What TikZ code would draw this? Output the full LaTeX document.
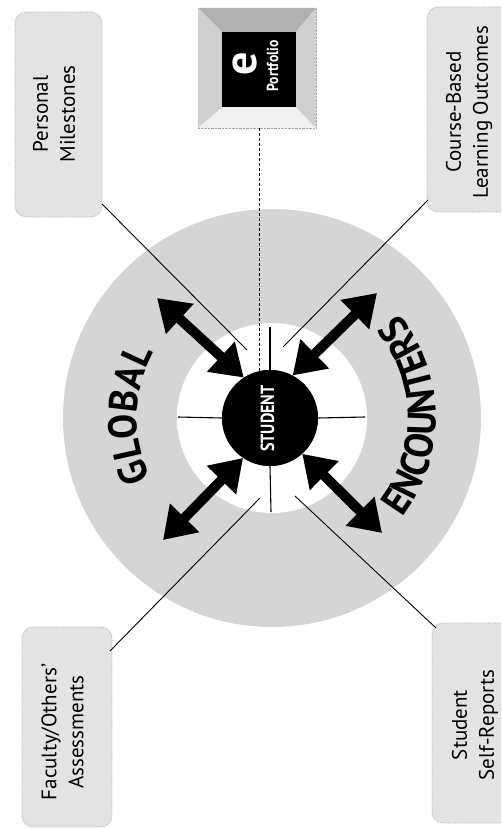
\documentclass[tikz,border=0pt]{standalone}
\usepackage{fontspec}
\setmainfont{PT Sans}
\newfontfamily\narrowfont[FakeStretch=0.85]{PT Sans}
\newfontfamily\arcfam[FakeStretch=0.93]{PT Sans}
\usetikzlibrary{arrows.meta,decorations.text,calc}
\pgfdeclareradialshading{ringfade}{\pgfpoint{0bp}{0bp}}{color(0bp)=(white); color(39bp)=(white); color(50bp)=(gray!30)}
\newcommand\arcfont{\arcfam\fontsize{40}{40}\selectfont\bfseries}
\begin{document}
\begin{tikzpicture}[x=1pt,y=1pt,
  lbl/.style={rotate=90, align=center, font=\fontsize{21}{27}\selectfont, inner sep=0pt},
  boxbg/.style={rounded corners=11pt, fill=gray!22, draw=gray!70, densely dotted, line width=0.7pt, inner sep=0pt},
  conn/.style={line width=0.9pt, black},
  spoke/.style={line width=1.1pt, black},
  bigarrow/.style={line width=10pt, {Triangle[length=31pt,width=39pt]}-{Triangle[length=31pt,width=39pt]}},
]
\useasboundingbox (0,0) rectangle (501,-829);
\begin{scope}
\clip (0,0) rectangle (501,-829);
% rings
\coordinate (C) at (272,-418);
\node[circle, fill=gray!33, minimum size=418pt, inner sep=0pt] (ring) at (C) {};
\path[shading=ringfade] (C) circle[radius=95];
\node[circle, minimum size=190pt, inner sep=0pt] (white) at (C) {};

% boxes
\node[boxbg, minimum width=87pt, minimum height=205pt] (pm) at (58.5,-114.5) {};
\node[boxbg, minimum width=95pt, minimum height=205pt] (cb) at (474.5,-109.5) {};
\node[boxbg, minimum width=90pt, minimum height=200pt] (fa) at (67,-727) {};
\node[boxbg, minimum width=95pt, minimum height=200pt] (sr) at (479.5,-723) {};

% labels
\node[lbl] (pmt) at (54,-114) {Personal\\Milestones};
\node[lbl] (cbt) at (469,-112) {Course-Based\\Learning Outcomes};
\node[lbl] (fat) at (62.5,-732) {Faculty/Others'\\Assessments};
\node[lbl] (srt) at (475,-725) {Student\\Self-Reports};

% ePortfolio
\node[draw=gray!70, densely dotted, fill=gray!12, minimum width=118pt, minimum height=120pt, inner sep=0pt] (ep) at (257,-68) {};
\node[fill=black, minimum width=74pt, minimum height=75pt, inner sep=0pt] (epin) at (259,-69.5) {};
\fill[gray!62] (ep.north west) -- (ep.north east) -- (epin.north east) -- (epin.north west) -- cycle;
\fill[gray!38] (ep.north west) -- (epin.north west) -- (epin.south west) -- (ep.south west) -- cycle;
\fill[gray!38] (ep.north east) -- (epin.north east) -- (epin.south east) -- (ep.south east) -- cycle;
\node[rotate=90, text=white, font=\fontsize{46}{46}\selectfont\bfseries, inner sep=0pt] (eltr) at (245,-64) {e};
\node[rotate=90, text=white, font=\narrowfont\fontsize{16}{16}\selectfont\bfseries, inner sep=0pt] (eptx) at (272.5,-66) {Portfolio};

% student circle node
\node[circle, fill=black, minimum size=96pt, inner sep=0pt] (st) at (270,-418) {};

% spokes
\coordinate (sw) at (178,-417);
\coordinate (se) at (365,-417);
\coordinate (sn) at (270,-327);
\coordinate (ss) at (271,-512);
\draw[spoke] (st.west) -- (sw);
\draw[spoke] (st.east) -- (se);
\draw[spoke] (st.north) -- (sn);
\draw[spoke] (st.south) -- (ss);

% connectors
\coordinate (pmx) at (102,-204);
\coordinate (cbx) at (428,-200);
\coordinate (fax) at (110,-651);
\coordinate (srx) at (436,-628);
\coordinate (c1) at (247,-350);
\coordinate (c2) at (283,-347);
\coordinate (c3) at (260,-498);
\coordinate (c4) at (295,-496);
\draw[conn] (pmx) -- (c1);
\draw[conn] (cbx) -- (c2);
\draw[conn] (fax) -- (c3);
\draw[conn] (srx) -- (c4);

% dashed line from ePortfolio
\draw[line width=1pt, dash pattern=on 3pt off 2pt] ($(ep.south)+(2,0)$) -- ($(ep.south |- st.center)+(2,0)$);

% redraw student circle on top
\node[circle, fill=black, minimum size=96pt, inner sep=0pt] (stc) at (270,-418) {};
\node[rotate=90, text=white, font=\narrowfont\fontsize{19}{19}\selectfont\bfseries, inner sep=0pt] (stt) at (267.5,-418.5) {STUDENT};

% arrows
\coordinate (a1) at (157,-298);
\coordinate (a2) at (377,-293);
\coordinate (a3) at (163,-540);
\coordinate (a4) at (382,-533);
\draw[bigarrow] (stc.123) -- (a1);
\draw[bigarrow] (stc.62) -- (a2);
\draw[bigarrow] (stc.236) -- (a3);
\draw[bigarrow] (stc.-48) -- (a4);

% curved texts
\path[decorate, decoration={text along path, text align=center, text={|\arcfont|GLOBAL}}]
  ($(C)+(220:135)$) arc[start angle=220, end angle=137.4, radius=135];
\path[decorate, decoration={text along path, text align=center, text={|\arcfont|ENCOUNTERS}}]
  ($(C)+(-55:164)$) arc[start angle=-55, end angle=57, radius=164];
\end{scope}
\end{tikzpicture}
\end{document}
